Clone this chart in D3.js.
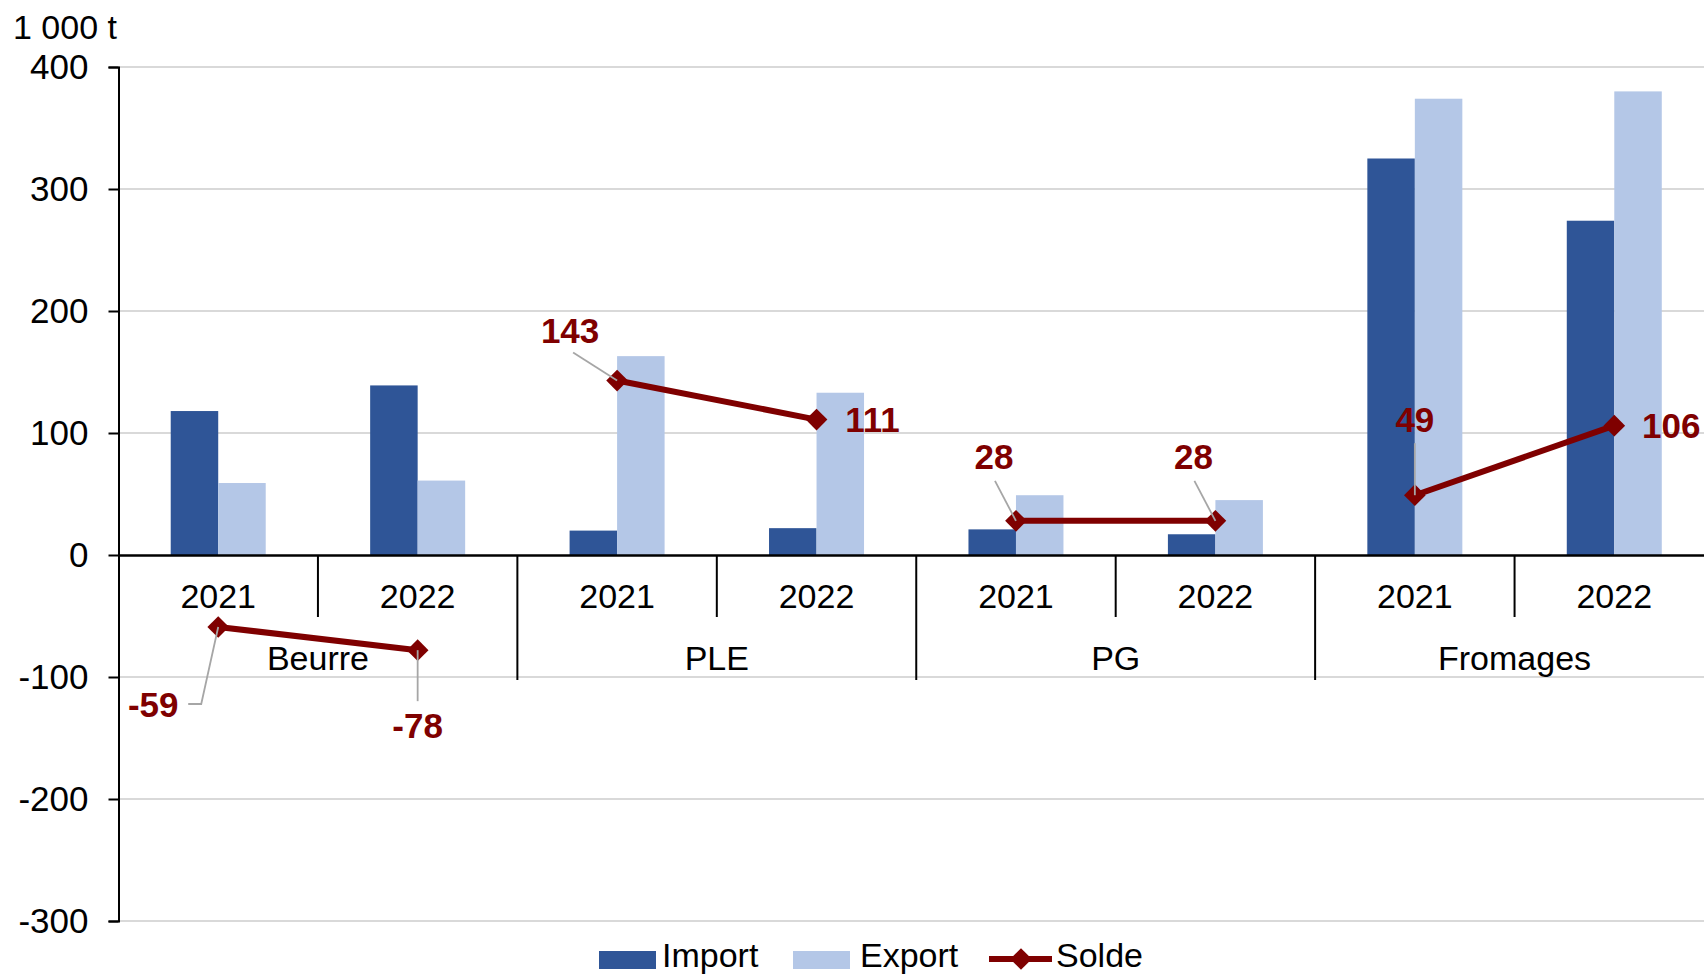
<!DOCTYPE html>
<html>
<head>
<meta charset="utf-8">
<script src="https://cdn.jsdelivr.net/npm/d3@7"></script>
<style>
  html, body { margin: 0; padding: 0; background: #fff; overflow: hidden; }
  svg { display: block; font-family: "Liberation Sans", Arial, sans-serif; }
</style>
</head>
<body>
<svg id="chart" width="1704" height="976"></svg>
<script>
// Dairy trade by product and year (thousand tonnes)
const groups = ["Beurre", "PLE", "PG", "Fromages"];
const years = ["2021", "2022"];
const importVals = [118, 139, 20, 22, 21, 17, 325, 274];
const exportVals = [59, 61, 163, 133, 49, 45, 374, 380];
const soldeVals = [-59, -78, 143, 111, 28, 28, 49, 106];
const yTicks = [-300, -200, -100, 0, 100, 200, 300, 400];
const seriesNames = ["Import", "Export", "Solde"];

// Label placement for the balance values: text offset and leader-line path, relative to the marker
const labelLayout = [
  { dx: -65, dy: 78, leader: [[0, 0], [-17, 77], [-30, 77]] },
  { dx: 0, dy: 76, leader: [[0, 0], [0, 51]] },
  { dx: -47, dy: -50, leader: [[0, 0], [-44, -28]] },
  { dx: 56, dy: 0, leader: null },
  { dx: -22, dy: -64, leader: [[0, 0], [-21, -40]] },
  { dx: -22, dy: -64, leader: [[0, 0], [-21, -40]] },
  { dx: 0, dy: -75, leader: [[0, 0], [0, -52]] },
  { dx: 57, dy: 0, leader: null }
];

const colors = { Import: "#2F5597", Export: "#B4C7E7", Solde: "#7F0000" };

const svg = d3.select("#chart");
// The category band runs slightly past the right edge of the canvas
const plotLeft = 118.5, plotRight = 1714, plotTop = 67, plotBottom = 921;
const canvasRight = 1704;

const cats = [];
groups.forEach(g => years.forEach(yr => cats.push(g + "|" + yr)));

const x = d3.scaleBand().domain(cats).range([plotLeft, plotRight]).padding(0);
const barW = 47.5;
const xs = d3.scaleBand().domain(["Import", "Export"]).range([-barW, barW]).padding(0);
const y = d3.scaleLinear().domain([-300, 400]).range([plotBottom, plotTop]);
const cx = i => x(cats[i]) + x.bandwidth() / 2;

// Gridlines
svg.append("g").selectAll("line")
  .data(yTicks.filter(v => v !== 0))
  .join("line")
  .attr("x1", plotLeft).attr("x2", canvasRight)
  .attr("y1", d => y(d)).attr("y2", d => y(d))
  .attr("stroke", "#d9d9d9").attr("stroke-width", 2);

// Bars
const rows = cats.map((c, i) => ({ i, Import: importVals[i], Export: exportVals[i] }));
const barG = svg.append("g");
["Import", "Export"].forEach(s => {
  barG.selectAll("rect." + s)
    .data(rows)
    .join("rect")
    .attr("class", s)
    .attr("x", d => cx(d.i) + xs(s))
    .attr("width", xs.bandwidth())
    .attr("y", d => y(Math.max(0, d[s])))
    .attr("height", d => Math.abs(y(d[s]) - y(0)))
    .attr("fill", colors[s]);
});

// Y axis
const yAxis = svg.append("g")
  .attr("transform", `translate(${plotLeft},0)`)
  .call(d3.axisLeft(y).tickValues(yTicks).tickSize(10).tickPadding(20).tickFormat(d => String(d)));
yAxis.select(".domain").attr("stroke", "#000").attr("stroke-width", 2);
yAxis.selectAll(".tick line").attr("stroke", "#000").attr("stroke-width", 2);
yAxis.selectAll(".tick text").attr("font-size", 35).attr("fill", "#000")
  .attr("font-family", "Liberation Sans, Arial, sans-serif");

// Unit label
svg.append("text").attr("x", 13).attr("y", 39)
  .attr("font-size", 34).attr("fill", "#000").text("1 000 t");

// X axis (at zero)
const xAxis = svg.append("g").attr("transform", `translate(0,${y(0)})`)
  .call(d3.axisBottom(x).tickSize(0).tickFormat(""));
xAxis.select(".domain").attr("stroke", "#000").attr("stroke-width", 2.5);

// Separators between years (short) and between groups (long)
const sepG = svg.append("g").attr("stroke", "#000").attr("stroke-width", 2);
cats.forEach((c, i) => {
  if (i === 0) return;
  const xx = x(c);
  const isGroup = i % years.length === 0;
  sepG.append("line").attr("x1", xx).attr("x2", xx)
    .attr("y1", y(0)).attr("y2", isGroup ? 680 : 617);
});

// Year and group labels
svg.append("g").selectAll("text")
  .data(cats)
  .join("text")
  .attr("x", (d, i) => cx(i)).attr("y", 596)
  .attr("dy", "0.35em").attr("text-anchor", "middle")
  .attr("font-size", 34).attr("fill", "#000")
  .text(d => d.split("|")[1]);

svg.append("g").selectAll("text")
  .data(groups)
  .join("text")
  .attr("x", (d, gi) => (x(cats[gi * 2]) + x(cats[gi * 2 + 1]) + x.bandwidth()) / 2)
  .attr("y", 658)
  .attr("dy", "0.35em").attr("text-anchor", "middle")
  .attr("font-size", 34).attr("fill", "#000")
  .text(d => d);

// Balance line per group
const line = d3.line().x(d => cx(d.i)).y(d => y(d.v));
const soldeG = svg.append("g");
groups.forEach((g, gi) => {
  const pts = [gi * 2, gi * 2 + 1].map(i => ({ i, v: soldeVals[i] }));
  soldeG.append("path").datum(pts)
    .attr("d", line).attr("fill", "none")
    .attr("stroke", colors.Solde).attr("stroke-width", 6);
});

// Leader lines
const leaderG = svg.append("g");
soldeVals.forEach((v, i) => {
  const L = labelLayout[i].leader;
  if (!L) return;
  leaderG.append("path")
    .attr("d", d3.line()(L.map(p => [cx(i) + p[0], y(v) + p[1]])))
    .attr("fill", "none").attr("stroke", "#a6a6a6").attr("stroke-width", 1.8);
});

// Diamond markers
const diamond = d3.symbol().type(d3.symbolDiamond2).size(300);
soldeG.selectAll("path.mk")
  .data(soldeVals.map((v, i) => ({ i, v })))
  .join("path").attr("class", "mk")
  .attr("d", diamond)
  .attr("transform", d => `translate(${cx(d.i)},${y(d.v)})`)
  .attr("fill", colors.Solde);

// Value labels
svg.append("g").selectAll("text")
  .data(soldeVals.map((v, i) => ({ i, v })))
  .join("text")
  .attr("x", d => cx(d.i) + labelLayout[d.i].dx)
  .attr("y", d => y(d.v) + labelLayout[d.i].dy)
  .attr("dy", "0.35em").attr("text-anchor", "middle")
  .attr("font-size", 35).attr("font-weight", "bold")
  .attr("fill", colors.Solde)
  .text(d => d.v);

// Legend
const lg = svg.append("g");
const legendItems = [
  { name: seriesNames[0], x: 599, tx: 662 },
  { name: seriesNames[1], x: 793, tx: 860 },
  { name: seriesNames[2], x: 989, tx: 1056 }
];
legendItems.forEach(it => {
  if (it.name === "Solde") {
    lg.append("line").attr("x1", it.x).attr("x2", it.x + 63)
      .attr("y1", 959).attr("y2", 959)
      .attr("stroke", colors.Solde).attr("stroke-width", 6);
    lg.append("path").attr("d", diamond)
      .attr("transform", `translate(${it.x + 32},959)`)
      .attr("fill", colors.Solde);
  } else {
    lg.append("rect").attr("x", it.x).attr("y", 951).attr("width", 57).attr("height", 18)
      .attr("fill", colors[it.name]);
  }
  lg.append("text").attr("x", it.tx).attr("y", 967)
    .attr("font-size", 34).attr("fill", "#000").text(it.name);
});
</script>
</body>
</html>
